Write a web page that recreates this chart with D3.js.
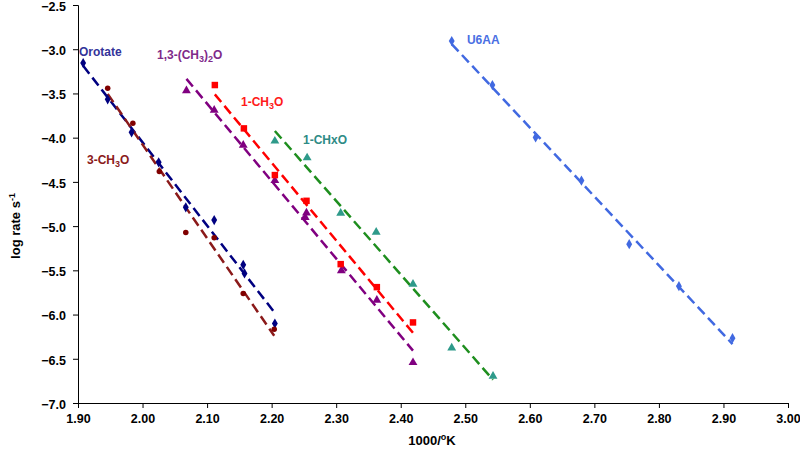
<!DOCTYPE html>
<html><head><meta charset="utf-8">
<script src="https://cdn.jsdelivr.net/npm/d3@7/dist/d3.min.js"></script>
<style>
body{margin:0;background:#fff}
svg{display:block}
text{font-family:"Liberation Sans",Arial,sans-serif;font-weight:bold}
</style>
</head><body>
<svg id="chart" width="800" height="459"></svg>
<script>
// ---- data ----
const xTicks = [1.90, 2.00, 2.10, 2.20, 2.30, 2.40, 2.50, 2.60, 2.70, 2.80, 2.90, 3.00];
const yTicks = [-2.5, -3.0, -3.5, -4.0, -4.5, -5.0, -5.5, -6.0, -6.5, -7.0];

const orotateX = [1.908, 1.946, 1.983, 2.025, 2.067, 2.111, 2.156, 2.158, 2.205];
const orotateY = [-3.156, -3.567, -3.940, -4.279, -4.788, -4.932, -5.438, -5.535, -6.101];

const meo3X = [1.946, 1.985, 2.026, 2.067, 2.111, 2.156, 2.204];
const meo3Y = [-3.442, -3.838, -4.383, -5.071, -5.132, -5.761, -6.165];

const dimeX = [2.068, 2.111, 2.156, 2.205, 2.254, 2.252, 2.308, 2.363, 2.419];
const dimeY = [-3.469, -3.688, -4.084, -4.485, -4.850, -4.902, -5.503, -5.837, -6.542];

const meo1X = [2.112, 2.157, 2.205, 2.254, 2.307, 2.363, 2.419];
const meo1Y = [-3.405, -3.895, -4.423, -4.714, -5.430, -5.690, -6.089];

const chxX = [2.205, 2.255, 2.307, 2.362, 2.419, 2.479, 2.543];
const chxY = [-4.038, -4.227, -4.853, -5.068, -5.656, -6.377, -6.697];

const u6aaX = [2.479, 2.542, 2.609, 2.680, 2.754, 2.831, 2.914];
const u6aaY = [-2.907, -3.405, -3.997, -4.485, -5.204, -5.679, -6.267];

const seriesNames = ["Orotate", "3-CH3O", "1,3-(CH3)2O", "1-CH3O", "1-CHxO", "U6AA"];

// ---- chart ----
const series = [
  {name: seriesNames[0], xs: orotateX, ys: orotateY, sym: d3.symbolDiamond, size: 30, mark: "#000080", line: "#000080", lab: "#333399",
   label: [{t:"Orotate"}], lx: 1.9016, ly: -3.077},
  {name: seriesNames[1], xs: meo3X, ys: meo3Y, sym: d3.symbolCircle, size: 24, mark: "#800000", line: "#8B1A1A", lab: "#8B1A1A",
   label: [{t:"3-CH"},{t:"3",sub:true},{t:"O"}], lx: 1.914, ly: -4.299},
  {name: seriesNames[2], xs: dimeX, ys: dimeY, sym: d3.symbolTriangle, size: 34, mark: "#800080", line: "#800080", lab: "#7F2A8A",
   label: [{t:"1,3-(CH"},{t:"3",sub:true},{t:")"},{t:"2",sub:true},{t:"O"}], lx: 2.0224, ly: -3.111},
  {name: seriesNames[3], xs: meo1X, ys: meo1Y, sym: d3.symbolSquare, size: 42, mark: "#FF0000", line: "#FF0000", lab: "#FF1A1A",
   label: [{t:"1-CH"},{t:"3",sub:true},{t:"O"}], lx: 2.1525, ly: -3.643},
  {name: seriesNames[4], xs: chxX, ys: chxY, sym: d3.symbolTriangle, size: 34, mark: "#2E9A8A", line: "#1E8E1E", lab: "#2E8B86",
   label: [{t:"1-CHxO"}], lx: 2.2486, ly: -4.072},
  {name: seriesNames[5], xs: u6aaX, ys: u6aaY, sym: d3.symbolDiamond, size: 30, mark: "#4169E1", line: "#4169E1", lab: "#4A6FE3",
   label: [{t:"U6AA"}], lx: 2.5026, ly: -2.941}
];

const svg = d3.select("#chart");
const x = d3.scaleLinear().domain([1.9, 3.0]).range([78, 788]);
const y = d3.scaleLinear().domain([-2.5, -7.0]).range([5, 403]);

// axes
const xAxis = d3.axisBottom(x).tickValues(xTicks).tickFormat(d3.format(".2f")).tickSizeOuter(0).tickSize(5).tickPadding(6);
const yAxis = d3.axisLeft(y).tickValues(yTicks).tickFormat(d3.format(".1f")).tickSizeOuter(0).tickSize(5).tickPadding(7);

const gx = svg.append("g").attr("transform", "translate(0,403)").call(xAxis);
const gy = svg.append("g").attr("transform", "translate(78,0)").call(yAxis);
[gx, gy].forEach(g => {
  g.select(".domain").attr("stroke", "#000").attr("stroke-width", 1);
  g.selectAll(".tick line").attr("stroke", "#000");
  g.selectAll("text").attr("font-size", 12.5).attr("fill", "#000")
   .attr("font-family", '"Liberation Sans",Arial,sans-serif').attr("font-weight", "bold");
});
gy.selectAll("text").attr("dy", "0.42em");

// regression trendlines
function regress(xs, ys) {
  const n = xs.length, mx = d3.mean(xs), my = d3.mean(ys);
  let sxy = 0, sxx = 0;
  for (let i = 0; i < n; i++) { sxy += (xs[i]-mx)*(ys[i]-my); sxx += (xs[i]-mx)**2; }
  const b = sxy / sxx, a = my - b*mx;
  const x0 = d3.min(xs), x1 = d3.max(xs);
  return [[x0, a + b*x0], [x1, a + b*x1]];
}

const line = d3.line().x(d => x(d[0])).y(d => y(d[1]));
series.forEach(s => {
  svg.append("path").attr("d", line(regress(s.xs, s.ys)))
    .attr("fill", "none").attr("stroke", s.line).attr("stroke-width", 2.5)
    .attr("stroke-dasharray", "10,5");
});

series.forEach(s => {
  const pts = s.xs.map((v, i) => [v, s.ys[i]]);
  svg.append("g").selectAll("path").data(pts).join("path")
    .attr("d", d3.symbol().type(s.sym).size(s.size))
    .attr("transform", d => `translate(${x(d[0])},${y(d[1])})`)
    .attr("fill", s.mark);
});

// series labels
series.forEach(s => {
  const t = svg.append("text").attr("x", x(s.lx)).attr("y", y(s.ly))
    .attr("font-size", 12).attr("fill", s.lab);
  let prevSub = false;
  s.label.forEach(p => {
    const ts = t.append("tspan").text(p.t);
    if (p.sub) ts.attr("font-size", 9);
    if (p.sub && !prevSub) ts.attr("dy", 3);
    else if (!p.sub && prevSub) ts.attr("dy", -3);
    prevSub = !!p.sub;
  });
});

// axis titles
const yt = svg.append("text").attr("transform", "translate(20,226) rotate(-90)")
  .attr("text-anchor", "middle").attr("font-size", 13).attr("fill", "#000");
yt.append("tspan").text("log rate s");
yt.append("tspan").text("-1").attr("font-size", 9).attr("dy", -5);

const xt = svg.append("text").attr("x", 432).attr("y", 445)
  .attr("text-anchor", "middle").attr("font-size", 13).attr("fill", "#000");
xt.append("tspan").text("1000/");
xt.append("tspan").text("o").attr("font-size", 9).attr("dy", -5);
xt.append("tspan").text("K").attr("dy", 5);
</script>
</body></html>
